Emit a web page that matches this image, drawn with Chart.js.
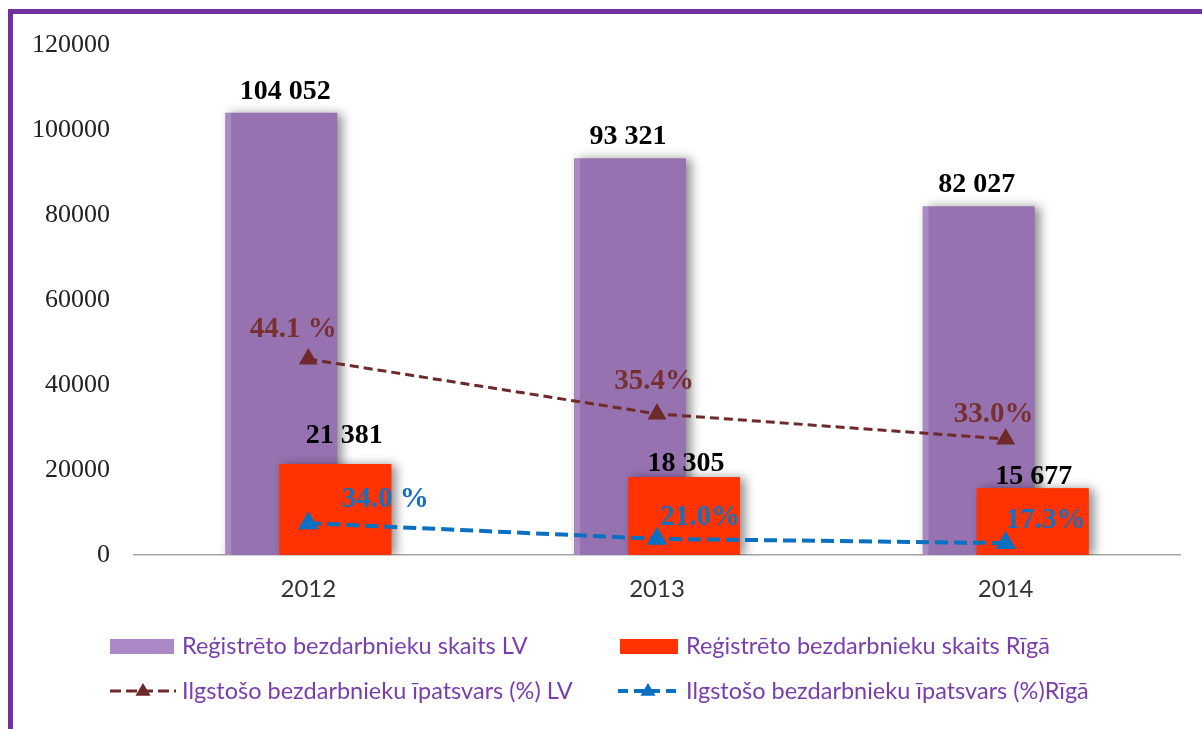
<!DOCTYPE html>
<html>
<head>
<meta charset="utf-8">
<script src="https://cdn.jsdelivr.net/npm/chart.js@4.4.1/dist/chart.umd.min.js"></script>
<style>
html, body { margin: 0; padding: 0; background: #fff; overflow: hidden; }
#wrap { position: relative; width: 1202px; height: 729px; overflow: hidden; background: #fff; }
#frame { position: absolute; left: 8px; top: 9px; width: 1400px; height: 900px;
         border-left: 5px solid #7030A0; border-top: 5px solid #7030A0; }
canvas { position: absolute; left: 0; top: 0; }
</style>
</head>
<body>
<div id="wrap"><div id="frame"></div><canvas id="chart" width="1202" height="729"></canvas></div>
<script>
/* ---------- DATA ---------- */
const years = ["2012", "2013", "2014"];
const seriesNames = [
    "Reģistrēto bezdarbnieku skaits LV",
    "Reģistrēto bezdarbnieku skaits Rīgā",
    "Ilgstošo bezdarbnieku īpatsvars (%) LV",
    "Ilgstošo bezdarbnieku īpatsvars (%)Rīgā"
];
const countLV = [104052, 93321, 82027];
const countRiga = [21381, 18305, 15677];
// the share lines sit on the count axis in the original
const shareLVPlot = [46100, 33200, 27300];
const shareRigaPlot = [7500, 3800, 2800];
const shareLVText = ["44.1 %", "35.4%", "33.0%"];
const shareRigaText = ["34.0 %", "21.0%", "17.3%"];
const yTicks = [0, 20000, 40000, 60000, 80000, 100000, 120000];

/* ---------- LABEL NUDGES (px) ---------- */
const liftLV = [14, 14, 14];
const shiftLV = [4, -2, -2];
const liftRiga = [21, 6, 4];
const shiftRiga = [9, 2, 1];
const pctNudgeLV = [[-15, -22], [-3, -25], [-12, -17]];
const pctNudgeRiga = [[77, -16], [43, -14], [40, -15]];

const PURPLE = "#9673B0";
const RED = "#FF3300";
const BROWN = "#6E2A2A";
const BLUE = "#0A70C2";

function spaced(n) {
    return String(n).replace(/\B(?=(\d{3})+(?!\d))/g, " ");
}

/* ---------- BAR SHADOWS + DRAW ORDER ---------- */
function drawShadows(chart, idx) {
    const ctx = chart.ctx;
    const area = chart.chartArea;
    const meta = chart.getDatasetMeta(idx);
    ctx.save();
    ctx.beginPath();
    ctx.rect(area.left, 0, area.right - area.left + 30, area.bottom);
    ctx.clip();
    meta.data.forEach(el => {
        ctx.shadowColor = "rgba(0,0,0,0.45)";
        ctx.shadowBlur = 10;
        ctx.shadowOffsetX = 5;
        ctx.shadowOffsetY = 1;
        ctx.fillStyle = chart.data.datasets[idx].backgroundColor;
        ctx.fillRect(el.x - el.width / 2, el.y, el.width, el.base - el.y);
    });
    ctx.restore();
}

const barDecor = {
    id: "barDecor",
    beforeDatasetDraw(chart, args) {
        if (args.index === 1) return false;   // Rīga bars go on top of LV, drawn later
        if (args.index === 0) drawShadows(chart, 0);
    },
    afterDatasetDraw(chart, args) {
        if (args.index === 0) {
            drawShadows(chart, 1);
            chart.getDatasetMeta(1).controller.draw();
        }
    }
};

/* ---------- VALUE LABELS ---------- */
const valueLabels = {
    id: "valueLabels",
    afterDatasetsDraw(chart) {
        const ctx = chart.ctx;
        ctx.save();
        ctx.textAlign = "center";
        ctx.textBaseline = "alphabetic";
        ctx.font = "bold 28px 'Liberation Serif'";
        ctx.fillStyle = "#000";
        chart.getDatasetMeta(0).data.forEach((el, i) => {
            ctx.fillText(spaced(countLV[i]), el.x + shiftLV[i], el.y - liftLV[i]);
        });
        chart.getDatasetMeta(1).data.forEach((el, i) => {
            ctx.fillText(spaced(countRiga[i]), el.x + shiftRiga[i], el.y - liftRiga[i]);
        });
        ctx.font = "bold 29px 'Liberation Serif'";
        ctx.fillStyle = "#76302F";
        chart.getDatasetMeta(2).data.forEach((el, i) => {
            ctx.fillText(shareLVText[i], el.x + pctNudgeLV[i][0], el.y + pctNudgeLV[i][1]);
        });
        ctx.fillStyle = "#1570C0";
        chart.getDatasetMeta(3).data.forEach((el, i) => {
            ctx.fillText(shareRigaText[i], el.x + pctNudgeRiga[i][0], el.y + pctNudgeRiga[i][1]);
        });
        ctx.restore();
    }
};

/* ---------- LEGEND ---------- */
const legendSlots = [
    { x: 110, y: 646 }, { x: 620, y: 646 },
    { x: 110, y: 691 }, { x: 618, y: 691 }
];
const legendSwatch = ["#AA89C6", RED];

function drawTri(ctx, x, y, r, color) {
    ctx.fillStyle = color;
    ctx.beginPath();
    ctx.moveTo(x, y - r);
    ctx.lineTo(x + r * 0.95, y + r * 0.6);
    ctx.lineTo(x - r * 0.95, y + r * 0.6);
    ctx.closePath();
    ctx.fill();
}

const bottomLegend = {
    id: "bottomLegend",
    afterDraw(chart) {
        const ctx = chart.ctx;
        ctx.save();
        seriesNames.forEach((name, i) => {
            const s = legendSlots[i];
            if (i < 2) {
                ctx.fillStyle = legendSwatch[i];
                ctx.fillRect(s.x, s.y - 7, i === 0 ? 64 : 58, 15);
            } else {
                const ds = chart.data.datasets[i];
                const w = i === 2 ? 66 : 60;
                ctx.strokeStyle = ds.borderColor;
                ctx.lineWidth = ds.borderWidth;
                ctx.setLineDash(i === 2 ? [11, 5] : [10, 6]);
                ctx.beginPath();
                ctx.moveTo(s.x, s.y);
                ctx.lineTo(s.x + w, s.y);
                ctx.stroke();
                ctx.setLineDash([]);
                drawTri(ctx, s.x + w / 2, s.y, 8, ds.borderColor);
            }
            ctx.fillStyle = "#7A3DAE";
            ctx.font = "23.5px Lato";
            ctx.textAlign = "left";
            ctx.textBaseline = "middle";
            ctx.fillText(name, i % 2 === 0 ? 182 : 686, s.y);
        });
        ctx.restore();
    }
};

/* ---------- CHART ---------- */
new Chart(document.getElementById("chart"), {
    type: "bar",
    data: {
        labels: years,
        datasets: [
            {
                type: "bar", label: seriesNames[0], data: countLV,
                backgroundColor: PURPLE,
                borderColor: "#A98BC3",
                borderWidth: { left: 6, top: 0, right: 0, bottom: 0 },
                categoryPercentage: 0.31, barPercentage: 2.07, order: 1
            },
            {
                type: "bar", label: seriesNames[1], data: countRiga,
                backgroundColor: RED,
                borderWidth: 0,
                categoryPercentage: 0.31, barPercentage: 2.07, order: 1
            },
            {
                type: "line", label: seriesNames[2], data: shareLVPlot,
                borderColor: BROWN, borderWidth: 3, borderDash: [9, 5],
                pointStyle: "triangle", pointRadius: 8,
                pointBackgroundColor: BROWN, pointBorderColor: BROWN,
                tension: 0, fill: false, order: 0
            },
            {
                type: "line", label: seriesNames[3], data: shareRigaPlot,
                borderColor: BLUE, borderWidth: 4, borderDash: [13, 6],
                pointStyle: "triangle", pointRadius: 8,
                pointBackgroundColor: BLUE, pointBorderColor: BLUE,
                tension: 0, fill: false, order: 0
            }
        ]
    },
    options: {
        responsive: false,
        animation: false,
        layout: { padding: { top: 45, right: 22, left: 0, bottom: 0 } },
        plugins: {
            legend: { display: false },
            tooltip: { enabled: false }
        },
        scales: {
            x: {
                grid: { display: false, drawTicks: false },
                border: { display: true, color: "#A6A6A6", width: 1.5 },
                ticks: { font: { family: "Lato", size: 24 }, color: "#333", padding: 20 },
                afterFit: s => { s.height = 174; }
            },
            y: {
                min: 0, max: 120000,
                grid: { display: false, drawTicks: false },
                border: { display: false },
                ticks: {
                    font: { family: "'Liberation Serif'", size: 26 },
                    color: "#222", padding: 24,
                    callback: v => String(v)
                },
                afterBuildTicks: s => { s.ticks = yTicks.map(v => ({ value: v })); },
                afterFit: s => { s.width = 134; }
            }
        }
    },
    plugins: [barDecor, valueLabels, bottomLegend]
});
</script>
</body>
</html>
